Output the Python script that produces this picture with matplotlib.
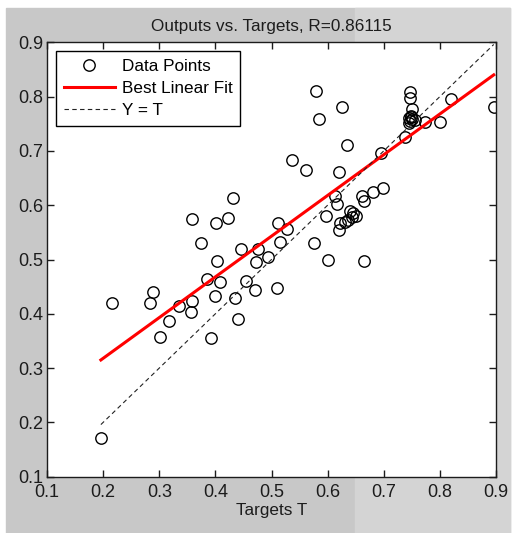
import numpy as np
import matplotlib
matplotlib.use("Agg")
import matplotlib.pyplot as plt
from matplotlib.patches import Rectangle

plt.rcParams['font.family'] = ['Liberation Sans', 'DejaVu Sans']

# network targets and outputs
targets = [0.196, 0.215, 0.284, 0.289, 0.301, 0.317, 0.336, 0.359, 0.357, 0.359,
           0.375, 0.385, 0.392, 0.399, 0.402, 0.403, 0.408, 0.422, 0.432, 0.435,
           0.441, 0.446, 0.455, 0.471, 0.473, 0.476, 0.493, 0.509, 0.511, 0.516,
           0.527, 0.537, 0.562, 0.576, 0.580, 0.585, 0.597, 0.601, 0.614, 0.616,
           0.620, 0.622, 0.620, 0.625, 0.634, 0.631, 0.637, 0.643, 0.646, 0.650,
           0.640, 0.662, 0.664, 0.665, 0.681, 0.695, 0.699, 0.737, 0.746, 0.746,
           0.751, 0.745, 0.747, 0.748, 0.745, 0.750, 0.749, 0.756, 0.774, 0.801,
           0.820, 0.896]
outputs = [0.172, 0.419, 0.419, 0.440, 0.358, 0.387, 0.414, 0.424, 0.403, 0.575,
           0.531, 0.464, 0.356, 0.432, 0.568, 0.498, 0.459, 0.577, 0.613, 0.429,
           0.391, 0.519, 0.460, 0.444, 0.495, 0.519, 0.505, 0.447, 0.567, 0.533,
           0.556, 0.683, 0.664, 0.531, 0.811, 0.759, 0.580, 0.500, 0.617, 0.603,
           0.554, 0.567, 0.661, 0.781, 0.711, 0.569, 0.573, 0.578, 0.586, 0.580,
           0.590, 0.617, 0.607, 0.498, 0.625, 0.696, 0.631, 0.725, 0.809, 0.797,
           0.778, 0.760, 0.755, 0.763, 0.751, 0.758, 0.765, 0.757, 0.753, 0.753,
           0.796, 0.781]

# linear fit Y = a*T + b
fit_slope = 0.75
fit_intercept = 0.168
r_value = "0.86115"

ticks = [0.1, 0.2, 0.3, 0.4, 0.5, 0.6, 0.7, 0.8, 0.9]

W, H = 519, 533
fig = plt.figure(figsize=(W / 100, H / 100), dpi=100)
fig.patch.set_facecolor('white')

# grey window background, slightly lighter on the right
fig.add_artist(Rectangle((6 / W, 0), (510 - 6) / W, 1 - 8 / H,
                         transform=fig.transFigure, color='#c8c8c8', zorder=-10))
fig.add_artist(Rectangle((355 / W, 0), (510 - 355) / W, 1 - 8 / H,
                         transform=fig.transFigure, color='#d4d4d4', zorder=-9))

ax = fig.add_axes([47 / W, 1 - 476.7 / H, 449 / W, 434.4 / H])
ax.set_facecolor('white')

t = np.array(targets)
y = np.array(outputs)
span = np.array([t.min(), t.max()])

ax.plot(t, y, 'o', mfc='none', mec='black', ms=8.2, mew=1.0, label='Data Points')
ax.plot(span, fit_slope * span + fit_intercept, '-', color='#ff0000', lw=2.2,
        label='Best Linear Fit')
ax.plot(span, span, '--', color='#222222', lw=0.8, dashes=(4, 3), label='Y = T')

ax.set_xlim(0.1, 0.9)
ax.set_ylim(0.1, 0.9)
ax.set_xticks(ticks)
ax.set_yticks(ticks)
ax.set_xticklabels([f'{v:g}' for v in ticks])
ax.set_yticklabels([f'{v:g}' for v in ticks])
ax.tick_params(direction='in', length=5, width=1, top=True, right=True,
               labelsize=13, colors='#1c1c1c')
ax.tick_params(axis='x', pad=5)
ax.tick_params(axis='y', pad=2.5)
for s in ax.spines.values():
    s.set_linewidth(1.0)
    s.set_color('#1c1c1c')

ax.set_title(f'Outputs vs. Targets, R={r_value}', fontsize=12.3, color='#1c1c1c', pad=8)
ax.set_xlabel('Targets T', fontsize=12.3, color='#1c1c1c', labelpad=2)

leg = ax.legend(loc='upper left', bbox_to_anchor=(0.02, 0.98), borderaxespad=0,
                fontsize=12.3, fancybox=False, framealpha=1, edgecolor='black',
                handlelength=3.0, handletextpad=0.4, borderpad=0.45, labelspacing=0.42)
leg.get_frame().set_linewidth(1.0)

fig.savefig('out.png', dpi=100)
